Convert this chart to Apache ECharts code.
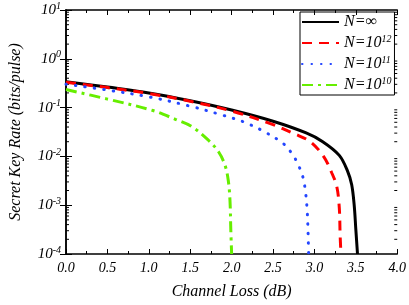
<!DOCTYPE html>
<html>
<head>
<meta charset="utf-8">
<script src="https://cdn.jsdelivr.net/npm/echarts@6/dist/echarts.min.js"></script>
<style>html,body{margin:0;padding:0;background:#fff}#c{width:409px;height:305px}</style>
</head>
<body>
<div id="c"></div>
<script>
// Channel loss (dB) and secret key rate (bits/pulse) for each curve
var lossInf = [0, 0.5, 1.0, 1.5, 2.0, 2.5, 2.9, 3.1, 3.3, 3.4, 3.45, 3.48, 3.50, 3.52];
var rateInf = [0.339, 0.263, 0.200, 0.138, 0.0891, 0.0525, 0.0302, 0.0200, 0.0105, 0.0050, 0.00263, 0.001, 0.000316, 0.0001];

var loss12 = [0, 0.5, 1.0, 1.5, 2.0, 2.5, 2.75, 2.95, 3.11, 3.21, 3.27, 3.30, 3.31, 3.32];
var rate12 = [0.331, 0.257, 0.195, 0.135, 0.0851, 0.0447, 0.0295, 0.0200, 0.0100, 0.00457, 0.0024, 0.00089, 0.00025, 0.0001];

var loss11 = [0, 0.5, 1.0, 1.5, 1.88, 2.14, 2.38, 2.61, 2.71, 2.79, 2.86, 2.89, 2.91, 2.92, 2.93];
var rate11 = [0.302, 0.229, 0.166, 0.107, 0.0708, 0.0513, 0.0331, 0.0191, 0.0126, 0.00759, 0.0038, 0.002, 0.00089, 0.0004, 0.0001];

var loss10 = [0, 0.49, 1.05, 1.32, 1.52, 1.72, 1.84, 1.92, 1.96, 1.98, 1.99, 2.0];
var rate10 = [0.234, 0.151, 0.0871, 0.0575, 0.0407, 0.0214, 0.0126, 0.0066, 0.00316, 0.00126, 0.000316, 0.0001];

var seriesNames = ['N=∞', 'N=10^12', 'N=10^11', 'N=10^10'];
var xTicks = [0, 0.5, 1, 1.5, 2, 2.5, 3, 3.5, 4];
var yDecades = [1e-4, 1e-3, 1e-2, 1e-1, 1, 10];

function pairs(xs, ys) { return xs.map(function (x, i) { return [x, ys[i]]; }); }

// log minor tick values (2..9 per decade)
var minorVals = [];
for (var d = 0; d < yDecades.length - 1; d++) {
  for (var k = 2; k <= 9; k++) minorVals.push(yDecades[d] * k);
}

var serif = 'Liberation Serif';
var chart = echarts.init(document.getElementById('c'));

var legendRich = {
  n: { fontFamily: serif, fontStyle: 'italic', fontSize: 16, color: '#000' },
  s: { fontFamily: serif, fontStyle: 'italic', fontSize: 10, color: '#000', padding: [0, 0, 8, 0] }
};

function lineSeries(name, data, color, type, cap) {
  return {
    name: name, type: 'line', data: data, showSymbol: false, symbol: 'none',
    smooth: 0.35, xAxisIndex: 0, yAxisIndex: 0,
    lineStyle: { color: color, width: 3, type: type, cap: cap || 'butt' },
    itemStyle: { color: color }
  };
}

var option = {
  animation: false,
  grid: { left: 62, right: 11, top: 10, bottom: 48 },
  legend: {
    orient: 'vertical', left: 300, top: 12,
    itemWidth: 37, itemHeight: 14, itemGap: 4,
    borderColor: '#000', borderWidth: 1, borderRadius: 0,
    padding: [2, 3, 2, 1],
    data: seriesNames,
    itemStyle: { opacity: 0 },
    textStyle: { fontFamily: serif, fontStyle: 'italic', fontSize: 16, color: '#000', rich: legendRich },
    formatter: function (name) {
      var parts = name.split('^');
      if (parts.length === 1) return '{n|' + name + '}';
      return '{n|' + parts[0] + '}{s|' + parts[1] + '}';
    }
  },
  xAxis: [{
    type: 'value', min: 0, max: 4, interval: 0.5, position: 'bottom',
    name: 'Channel Loss (dB)', nameLocation: 'middle', nameGap: 30,
    nameTextStyle: { fontFamily: serif, fontStyle: 'italic', fontSize: 16, color: '#000' },
    axisLine: { lineStyle: { color: '#000', width: 1.5 } },
    axisTick: { inside: true, length: 5, lineStyle: { color: '#000', width: 1 } },
    minorTick: { show: true, splitNumber: 2, length: 3, lineStyle: { color: '#000' } },
    splitLine: { show: false },
    axisLabel: { margin: 7, fontFamily: serif, fontStyle: 'italic', fontSize: 14, color: '#000',
      formatter: function (v) { return v.toFixed(1); } }
  }, {
    type: 'value', min: 0, max: 4, interval: 0.5, position: 'top',
    axisLine: { lineStyle: { color: '#000', width: 1.5 } },
    axisTick: { inside: true, length: 5, lineStyle: { color: '#000', width: 1 } },
    minorTick: { show: true, splitNumber: 2, length: 3, lineStyle: { color: '#000' } },
    splitLine: { show: false }, axisLabel: { show: false }
  }],
  yAxis: [{
    type: 'log', logBase: 10, min: 1e-4, max: 10, position: 'left',
    name: 'Secret Key Rate (bits/pulse)', nameLocation: 'middle', nameGap: 42,
    nameTextStyle: { fontFamily: serif, fontStyle: 'italic', fontSize: 16, color: '#000' },
    axisLine: { lineStyle: { color: '#000', width: 1.5 } },
    axisTick: { inside: true, length: 6, lineStyle: { color: '#000', width: 1 } },
    splitLine: { show: false },
    axisLabel: {
      margin: 5, color: '#000',
      formatter: function (v) {
        var e = Math.round(Math.log(v) / Math.LN10);
        return '{b|10}{s|' + e + '}';
      },
      rich: {
        b: { fontFamily: serif, fontStyle: 'italic', fontSize: 15, color: '#000' },
        s: { fontFamily: serif, fontStyle: 'italic', fontSize: 10, color: '#000', padding: [0, 0, 8, 0] }
      }
    }
  }, {
    type: 'log', logBase: 10, min: 1e-4, max: 10, position: 'right',
    axisLine: { lineStyle: { color: '#000', width: 1.5 } },
    axisTick: { inside: true, length: 6, lineStyle: { color: '#000', width: 1 } },
    splitLine: { show: false }, axisLabel: { show: false }
  }],
  series: [
    lineSeries(seriesNames[0], pairs(lossInf, rateInf), '#000000', 'solid'),
    lineSeries(seriesNames[1], pairs(loss12, rate12), '#ff0000', [10, 7]),
    lineSeries(seriesNames[2], pairs(loss11, rate11), '#2446ff', [0.5, 9], 'round'),
    lineSeries(seriesNames[3], pairs(loss10, rate10), '#66ee00', [11, 5, 3, 5]),
    {
      type: 'custom', silent: true, xAxisIndex: 0, yAxisIndex: 0, clip: false,
      data: minorVals.map(function (v) { return [0, v]; }),
      renderItem: function (params, api) {
        var pL = api.coord([0, api.value(1)]);
        var pR = api.coord([4, api.value(1)]);
        var st = { stroke: '#000', lineWidth: 1 };
        return { type: 'group', children: [
          { type: 'line', shape: { x1: pL[0], y1: pL[1], x2: pL[0] + 3, y2: pL[1] }, style: st },
          { type: 'line', shape: { x1: pR[0], y1: pR[1], x2: pR[0] - 3, y2: pR[1] }, style: st }
        ] };
      }
    }
  ]
};
chart.setOption(option);
</script>
</body>
</html>
